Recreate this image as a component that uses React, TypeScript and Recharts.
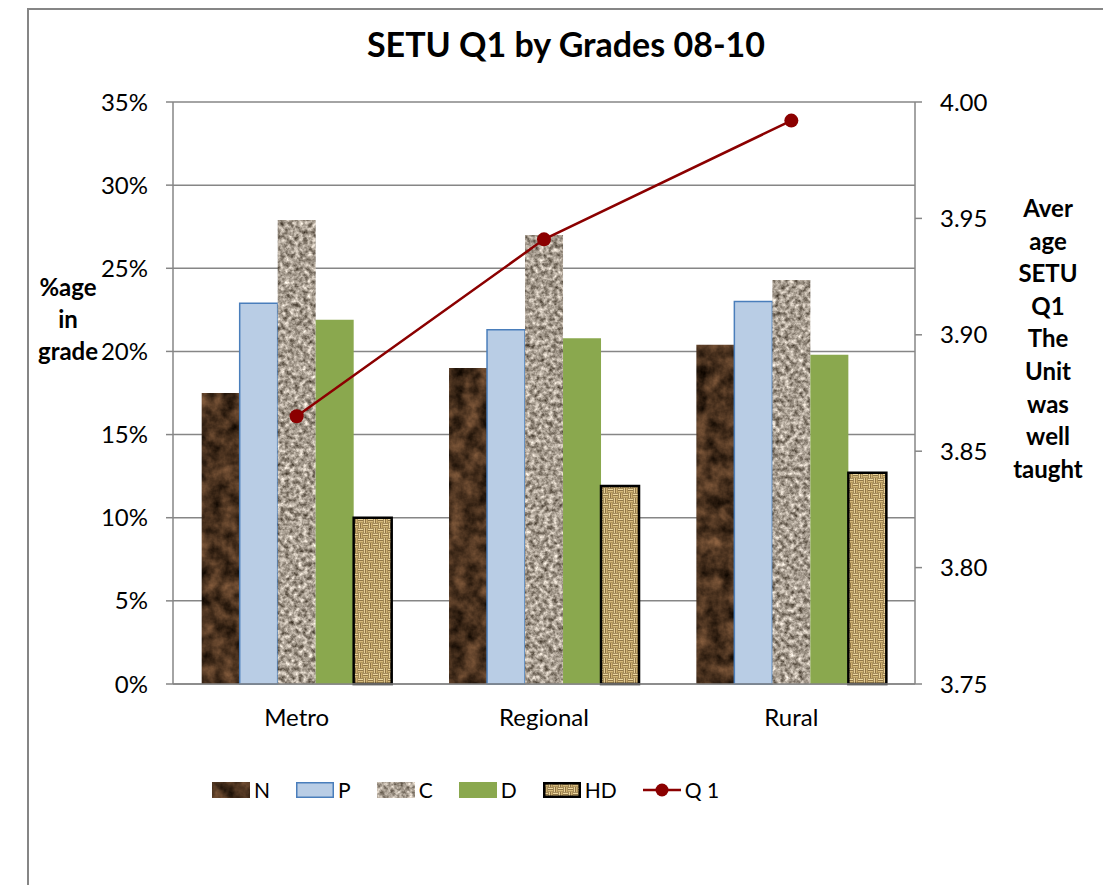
import React from "react";
import {
  ComposedChart,
  Bar,
  Line,
  XAxis,
  YAxis,
  CartesianGrid,
} from "recharts";

const categories = ["Metro", "Regional", "Rural"];
const nValues = [0.175, 0.19, 0.204];
const pValues = [0.229, 0.213, 0.23];
const cValues = [0.279, 0.27, 0.243];
const dValues = [0.219, 0.208, 0.198];
const hdValues = [0.1, 0.119, 0.127];
const q1Values = [3.865, 3.941, 3.992];

const leftTicks = [0, 0.05, 0.1, 0.15, 0.2, 0.25, 0.3, 0.35];
const rightTicks = [3.75, 3.8, 3.85, 3.9, 3.95, 4.0];
const boundaryTicks = [0, 1, 2, 3];

const title = "SETU Q1 by Grades 08-10";
const leftTitleLines = ["%age", "in", "grade"];
const rightTitleLines = ["Aver", "age", "SETU", "Q1", "The", "Unit", "was", "well", "taught"];

const data = categories.map((c, i) => ({
  cat: c,
  N: nValues[i],
  P: pValues[i],
  C: cValues[i],
  D: dValues[i],
  HD: hdValues[i],
  q1: q1Values[i],
}));

const FONT = "Lato, 'Open Sans', sans-serif";
const GRID = "#868686";
const RED = "#8B0000";

function Patterns() {
  return (
    <svg width={0} height={0} style={{ position: "absolute" }}>
      <defs>
        <filter id="fN" x="0" y="0" width="100%" height="100%" colorInterpolationFilters="sRGB">
          <feTurbulence type="fractalNoise" baseFrequency="0.07" numOctaves={4} seed={3} />
          <feColorMatrix
            type="matrix"
            values="0.62 0 0 0 -0.02  0.45 0 0 0 -0.03  0.32 0 0 0 -0.04  0 0 0 0 1"
          />
        </filter>
        <filter id="fC" x="0" y="0" width="100%" height="100%" colorInterpolationFilters="sRGB">
          <feTurbulence type="fractalNoise" baseFrequency="0.22" numOctaves={3} seed={7} />
          <feColorMatrix
            type="matrix"
            values="1.05 0 0 0 0.13  1.05 0 0 0 0.09  1.05 0 0 0 0.04  0 0 0 0 1"
          />
        </filter>
        <pattern id="patN" patternUnits="userSpaceOnUse" width={1103} height={877}>
          <rect width={1103} height={877} filter="url(#fN)" />
        </pattern>
        <pattern id="patC" patternUnits="userSpaceOnUse" width={1103} height={877}>
          <rect width={1103} height={877} filter="url(#fC)" />
        </pattern>
        <pattern id="patHD" patternUnits="userSpaceOnUse" width={10} height={10}>
          <rect width={10} height={10} fill="#5e4219" />
          <rect x={0} y={0.5} width={5} height={1.8} fill="#ecd69e" />
          <rect x={0} y={2.9} width={5} height={1.8} fill="#d6bb7c" />
          <rect x={5.5} y={0} width={1.8} height={5} fill="#e8d198" />
          <rect x={7.9} y={0} width={1.8} height={5} fill="#cfb274" />
          <rect x={0.5} y={5} width={1.8} height={5} fill="#e8d198" />
          <rect x={2.9} y={5} width={1.8} height={5} fill="#cfb274" />
          <rect x={5} y={5.5} width={5} height={1.8} fill="#ecd69e" />
          <rect x={5} y={7.9} width={5} height={1.8} fill="#d6bb7c" />
        </pattern>
      </defs>
    </svg>
  );
}

const legendItems = [
  { key: "N", fill: "url(#patN)", stroke: "none", sw: 0 },
  { key: "P", fill: "#b9cde5", stroke: "#4a7ebb", sw: 1.5 },
  { key: "C", fill: "url(#patC)", stroke: "none", sw: 0 },
  { key: "D", fill: "#8aa84e", stroke: "none", sw: 0 },
  { key: "HD", fill: "url(#patHD)", stroke: "#000", sw: 2.5 },
];

function LegendBox() {
  return (
    <div
      style={{
        position: "absolute",
        left: 204,
        top: 769,
        display: "flex",
        alignItems: "center",
        gap: 26,
        fontFamily: FONT,
        fontSize: 21,
        color: "#000",
      }}
    >
      {legendItems.map((it) => (
        <div key={it.key} style={{ display: "flex", alignItems: "center", gap: 4 }}>
          <svg width={38} height={16}>
            <rect
              x={it.sw / 2}
              y={it.sw / 2}
              width={38 - it.sw}
              height={16 - it.sw}
              fill={it.fill}
              stroke={it.stroke}
              strokeWidth={it.sw}
            />
          </svg>
          <span>{it.key}</span>
        </div>
      ))}
      <div style={{ display: "flex", alignItems: "center", gap: 4 }}>
        <svg width={38} height={16}>
          <line x1={0} y1={8} x2={38} y2={8} stroke={RED} strokeWidth={2.5} />
          <circle cx={19} cy={8} r={6.5} fill={RED} />
        </svg>
        <span>Q 1</span>
      </div>
    </div>
  );
}

export default function App() {
  return (
    <div
      style={{
        position: "relative",
        width: 1103,
        height: 877,
        overflow: "hidden",
        background: "#fff",
        fontFamily: FONT,
      }}
    >
      <Patterns />
      <div
        style={{
          position: "absolute",
          left: 19,
          top: 0,
          width: 1200,
          height: 1000,
          borderLeft: `2px solid ${GRID}`,
          borderTop: `2px solid ${GRID}`,
          boxSizing: "border-box",
        }}
      />
      <div
        style={{
          position: "absolute",
          left: 0,
          width: 1116,
          top: 15,
          textAlign: "center",
          fontWeight: 700,
          fontSize: 34,
          lineHeight: "42px",
        }}
      >
        {title}
      </div>
      <div style={{ position: "absolute", left: 8, top: 263, width: 104, textAlign: "center", fontWeight: 700, fontSize: 24, lineHeight: "32px" }}>
        {leftTitleLines.map((l) => (
          <div key={l}>{l}</div>
        ))}
      </div>
      <div style={{ position: "absolute", left: 988, top: 184, width: 104, textAlign: "center", fontWeight: 700, fontSize: 24, lineHeight: "32.6px" }}>
        {rightTitleLines.map((l) => (
          <div key={l}>{l}</div>
        ))}
      </div>
      <div style={{ position: "absolute", left: 0, top: 0 }}>
        <ComposedChart
          width={1103}
          height={877}
          data={data}
          margin={{ top: 94, right: 0, bottom: 161, left: 0 }}
          barCategoryGap="11.6%"
          barGap={0}
        >
          <CartesianGrid vertical={false} stroke={GRID} strokeWidth={1.5} yAxisId="left" />
          <XAxis
            xAxisId="ticks"
            type="number"
            domain={[0, 3]}
            ticks={boundaryTicks}
            allowDataOverflow
            height={0}
            axisLine={false}
            tickSize={7}
            tickLine={{ stroke: GRID, strokeWidth: 1.5 }}
            tickFormatter={() => ""}
          />
          <XAxis
            dataKey="cat"
            height={40}
            tickSize={0}
            tickMargin={25}
            axisLine={{ stroke: GRID, strokeWidth: 1.5 }}
            tickLine={false}
            tick={{ fill: "#000", fontSize: 24, fontFamily: FONT }}
          />
          <YAxis
            yAxisId="left"
            width={165}
            domain={[0, 0.35]}
            ticks={leftTicks}
            tickFormatter={(v: number) => `${Math.round(v * 100)}%`}
            tickSize={7}
            tickMargin={18}
            axisLine={{ stroke: GRID, strokeWidth: 1.5 }}
            tickLine={{ stroke: GRID, strokeWidth: 1.5 }}
            tick={{ fill: "#000", fontSize: 24, fontFamily: FONT }}
          />
          <YAxis
            yAxisId="right"
            orientation="right"
            width={196}
            domain={[3.75, 4.0]}
            ticks={rightTicks}
            tickFormatter={(v: number) => v.toFixed(2)}
            tickSize={7}
            tickMargin={18}
            axisLine={{ stroke: GRID, strokeWidth: 1.5 }}
            tickLine={{ stroke: GRID, strokeWidth: 1.5 }}
            tick={{ fill: "#000", fontSize: 24, fontFamily: FONT }}
          />
          <Bar yAxisId="left" dataKey="N" fill="url(#patN)" isAnimationActive={false} />
          <Bar yAxisId="left" dataKey="P" fill="#b9cde5" stroke="#4a7ebb" strokeWidth={1.5} isAnimationActive={false} />
          <Bar yAxisId="left" dataKey="C" fill="url(#patC)" isAnimationActive={false} />
          <Bar yAxisId="left" dataKey="D" fill="#8aa84e" isAnimationActive={false} />
          <Bar yAxisId="left" dataKey="HD" fill="url(#patHD)" stroke="#000" strokeWidth={2.5} isAnimationActive={false} />
          <Line
            yAxisId="right"
            dataKey="q1"
            stroke={RED}
            strokeWidth={2.5}
            dot={{ r: 7, fill: RED, stroke: "none" }}
            isAnimationActive={false}
          />
        </ComposedChart>
      </div>
      <LegendBox />
    </div>
  );
}
